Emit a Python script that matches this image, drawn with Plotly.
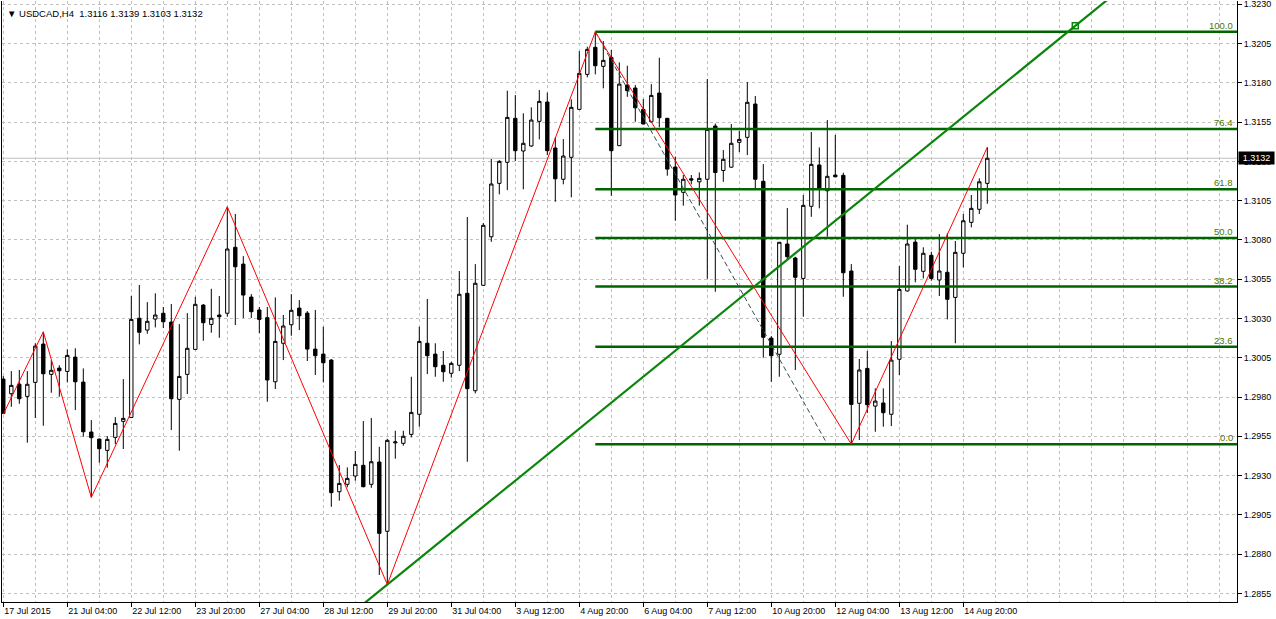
import plotly.graph_objects as go

# ---------------- data (USDCAD, H4) ----------------
bar_index = list(range(124))

opens = [1.29914, 1.29821, 1.29882, 1.29804, 1.29893, 1.30137, 1.29944, 1.29984, 1.29963, 1.30054,
         1.29895, 1.29577, 1.29532, 1.29460, 1.29543, 1.29645, 1.29670, 1.30301, 1.30226, 1.30296,
         1.30333, 1.30277, 1.29785, 1.29944, 1.30103, 1.30385, 1.30262, 1.30322, 1.30333, 1.30753,
         1.30646, 1.30436, 1.30354, 1.30305, 1.29897, 1.30142, 1.30260, 1.30366, 1.30334, 1.30105,
         1.30073, 1.30035, 1.29197, 1.29244, 1.29297, 1.29365, 1.29244, 1.29386, 1.28945, 1.29508,
         1.29505, 1.29562, 1.29690, 1.30142, 1.30073, 1.30002, 1.29951, 1.30002, 1.30460, 1.29840,
         1.30511, 1.30820, 1.31160, 1.31294, 1.31574, 1.31366, 1.31398, 1.31555, 1.31678, 1.31385,
         1.31186, 1.31326, 1.31631, 1.31854, 1.32026, 1.31905, 1.31962, 1.31400, 1.31786, 1.31767,
         1.31631, 1.31552, 1.31735, 1.31574, 1.31264, 1.31103, 1.31189, 1.31170, 1.31186, 1.31525,
         1.31242, 1.31263, 1.31421, 1.31453, 1.31665, 1.31173, 1.30175, 1.30072, 1.30774, 1.30685,
         1.30555, 1.31014, 1.31277, 1.31113, 1.31213, 1.31211, 1.30602, 1.29760, 1.29982, 1.29742,
         1.29762, 1.29690, 1.30040, 1.30475, 1.30786, 1.30600, 1.30702, 1.30545, 1.30594, 1.30434,
         1.30715, 1.30912, 1.30995, 1.31160]

highs = [1.29933, 1.29965, 1.29972, 1.29965, 1.30142, 1.30215, 1.30035, 1.30002, 1.30103, 1.30110,
         1.29982, 1.29653, 1.29535, 1.29551, 1.29672, 1.29914, 1.30443, 1.30513, 1.30404, 1.30460,
         1.30373, 1.30392, 1.30264, 1.30334, 1.30438, 1.30392, 1.30489, 1.30443, 1.31011, 1.30965,
         1.30697, 1.30455, 1.30373, 1.30373, 1.30434, 1.30322, 1.30455, 1.30417, 1.30347, 1.30354,
         1.30247, 1.30042, 1.29367, 1.29352, 1.29456, 1.29647, 1.29666, 1.29483, 1.29534, 1.29585,
         1.29585, 1.29929, 1.30247, 1.30424, 1.30142, 1.30093, 1.30024, 1.30602, 1.30946, 1.30646,
         1.30907, 1.31315, 1.31308, 1.31750, 1.31722, 1.31606, 1.31644, 1.31754, 1.31737, 1.31453,
         1.31442, 1.31695, 1.32002, 1.32030, 1.32125, 1.32066, 1.32009, 1.31930, 1.31909, 1.31786,
         1.31697, 1.31792, 1.31960, 1.31577, 1.31330, 1.31213, 1.31213, 1.31230, 1.31824, 1.31541,
         1.31372, 1.31538, 1.31495, 1.31805, 1.31716, 1.31283, 1.30188, 1.30787, 1.31003, 1.30693,
         1.31086, 1.31487, 1.31389, 1.31563, 1.31468, 1.31228, 1.30646, 1.30042, 1.30093, 1.29855,
         1.29855, 1.30156, 1.30634, 1.30897, 1.30804, 1.30753, 1.30725, 1.30837, 1.30842, 1.30793,
         1.30965, 1.31086, 1.31192, 1.31390]

lows = [1.29691, 1.29738, 1.29757, 1.29509, 1.29666, 1.29617, 1.29827, 1.29802, 1.29893, 1.29717,
        1.29547, 1.29161, 1.29381, 1.29350, 1.29500, 1.29469, 1.29666, 1.30135, 1.30203, 1.30243,
        1.30239, 1.29590, 1.29458, 1.29819, 1.30099, 1.30158, 1.30209, 1.30177, 1.30311, 1.30258,
        1.30303, 1.30303, 1.30207, 1.29770, 1.29851, 1.30035, 1.30190, 1.30226, 1.30029, 1.29940,
        1.29893, 1.29101, 1.29140, 1.29225, 1.29267, 1.29225, 1.29222, 1.28667, 1.28606, 1.29407,
        1.29490, 1.29543, 1.29611, 1.29946, 1.29929, 1.29897, 1.29923, 1.29965, 1.29388, 1.29823,
        1.30508, 1.30788, 1.31090, 1.31117, 1.31302, 1.31122, 1.31393, 1.31440, 1.31340, 1.31043,
        1.31154, 1.31071, 1.31627, 1.31835, 1.31854, 1.31765, 1.31081, 1.31398, 1.31711, 1.31552,
        1.31536, 1.31550, 1.31517, 1.31209, 1.30922, 1.31018, 1.31154, 1.31018, 1.30553, 1.30470,
        1.31170, 1.31260, 1.31359, 1.31340, 1.31128, 1.30050, 1.29897, 1.29929, 1.30678, 1.29972,
        1.30311, 1.30947, 1.31001, 1.30820, 1.31200, 1.30438, 1.29500, 1.29526, 1.29698, 1.29579,
        1.29611, 1.29615, 1.29940, 1.30472, 1.30530, 1.30555, 1.30540, 1.30443, 1.30294, 1.30142,
        1.30625, 1.30880, 1.30965, 1.31030]

closes = [1.29696, 1.29874, 1.29789, 1.29881, 1.30124, 1.29948, 1.29970, 1.29967, 1.30065, 1.29897,
          1.29579, 1.29541, 1.29471, 1.29530, 1.29632, 1.29664, 1.30294, 1.30212, 1.30282, 1.30322,
          1.30279, 1.29789, 1.29931, 1.30110, 1.30390, 1.30273, 1.30301, 1.30311, 1.30742, 1.30629,
          1.30449, 1.30343, 1.30294, 1.29908, 1.30154, 1.30252, 1.30352, 1.30317, 1.30105, 1.30063,
          1.30018, 1.29191, 1.29250, 1.29282, 1.29371, 1.29229, 1.29388, 1.28932, 1.29524, 1.29514,
          1.29550, 1.29702, 1.30154, 1.30063, 1.29993, 1.29961, 1.30014, 1.30454, 1.29853, 1.30524,
          1.30893, 1.31156, 1.31300, 1.31580, 1.31368, 1.31415, 1.31563, 1.31682, 1.31368, 1.31189,
          1.31334, 1.31644, 1.31860, 1.32013, 1.31909, 1.31943, 1.31368, 1.31792, 1.31750, 1.31641,
          1.31538, 1.31720, 1.31578, 1.31251, 1.31086, 1.31186, 1.31181, 1.31192, 1.31504, 1.31229,
          1.31313, 1.31415, 1.31440, 1.31676, 1.31186, 1.30180, 1.30063, 1.30785, 1.30693, 1.30562,
          1.31020, 1.31281, 1.31128, 1.31205, 1.31202, 1.30591, 1.29753, 1.29972, 1.29751, 1.29774,
          1.29700, 1.30035, 1.30485, 1.30774, 1.30613, 1.30715, 1.30555, 1.30602, 1.30422, 1.30721,
          1.30922, 1.31001, 1.31170, 1.31320]

tick_index = [0, 8, 16, 24, 32, 40, 48, 56, 64, 72, 80, 88, 96, 104, 112, 120]
tick_text = ["17 Jul 2015", "21 Jul 04:00", "22 Jul 12:00", "23 Jul 20:00", "27 Jul 04:00",
             "28 Jul 12:00", "29 Jul 20:00", "31 Jul 04:00", "3 Aug 12:00", "4 Aug 20:00",
             "6 Aug 04:00", "7 Aug 12:00", "10 Aug 20:00", "12 Aug 04:00", "13 Aug 12:00",
             "14 Aug 20:00"]

# ZigZag vertices
zigzag_index = [0, 5, 11, 28, 48, 74, 106, 123]
zigzag_price = [1.29691, 1.30215, 1.29161, 1.31011, 1.28606, 1.32125, 1.29500, 1.31390]

# Fibonacci retracement
fib_index = [74, 103]
fib_price = [1.32125, 1.29500]
fib_levels = [0.0, 23.6, 38.2, 50.0, 61.8, 76.4, 100.0]

# Trend line anchors
trend_index = [48, 134]
trend_price = [1.28606, 1.32163]

last_price = 1.3132
y_range = [1.28495, 1.32321]
x_range = [-0.1625, 154.21]

# ---------------- figure ----------------
GRID = "#c0c0c0"
FONT = "Liberation Sans"

fig = go.Figure()

fig.add_trace(go.Candlestick(
    x=bar_index, open=opens, high=highs, low=lows, close=closes,
    increasing=dict(line=dict(color="black", width=1), fillcolor="white"),
    decreasing=dict(line=dict(color="black", width=1), fillcolor="black"),
    whiskerwidth=0, hoverinfo="skip", showlegend=False))

# Fibonacci levels (rays to the right)
fib_hi, fib_lo = fib_price[0], fib_price[1]
for lvl in fib_levels:
    p = fib_lo + (fib_hi - fib_lo) * lvl / 100.0
    fig.add_trace(go.Scatter(x=[fib_index[0], x_range[1] + 5], y=[p, p], mode="lines",
                             line=dict(color="#006400", width=2.5), hoverinfo="skip",
                             showlegend=False))
    fig.add_annotation(xref="paper", yref="y", x=1, y=p, xanchor="right", yanchor="bottom",
                       xshift=-2, yshift=-1, text=f"{lvl:.1f}", showarrow=False,
                       font=dict(family=FONT, size=9.5, color="#4f7400"))

# Fibonacci base (dashed)
fig.add_trace(go.Scatter(x=fib_index, y=fib_price, mode="lines",
                         line=dict(color="#2f4f4f", width=1, dash="5px,3px"),
                         hoverinfo="skip", showlegend=False))

# Trend line (extended both ways, clipped by axes)
slope = (trend_price[1] - trend_price[0]) / (trend_index[1] - trend_index[0])
tx0, tx1 = 40, 150
fig.add_trace(go.Scatter(x=[tx0, tx1],
                         y=[trend_price[0] + slope * (tx0 - trend_index[0]),
                            trend_price[0] + slope * (tx1 - trend_index[0])],
                         mode="lines", line=dict(color="#0b840b", width=2.2),
                         hoverinfo="skip", showlegend=False))
fig.add_trace(go.Scatter(x=[trend_index[1]], y=[trend_price[1]], mode="markers",
                         marker=dict(symbol="square-open", size=6, color="#0b840b",
                                     line=dict(width=1.5, color="#0b840b")),
                         hoverinfo="skip", showlegend=False))

# ZigZag
fig.add_trace(go.Scatter(x=zigzag_index, y=zigzag_price, mode="lines",
                         line=dict(color="red", width=1), hoverinfo="skip", showlegend=False))

# current price line
fig.add_shape(type="line", xref="paper", x0=0, x1=1, yref="y", y0=last_price, y1=last_price,
              line=dict(color=GRID, width=1), layer="below")

fig.add_annotation(xref="paper", yref="y", x=1, y=last_price, xanchor="left", yanchor="middle",
                   xshift=1, text=f"{last_price:.4f}", showarrow=False, bgcolor="black",
                   width=33, align="center", borderpad=1,
                   font=dict(family=FONT, size=9, color="white"))

# title
fig.add_annotation(xref="paper", yref="paper", x=0, y=1, xanchor="left", yanchor="top",
                   xshift=3, yshift=-5,
                   text="\u25bc USDCAD,H4\u00a0\u00a0" + " ".join(f"{v:.4f}" for v in
                        [opens[-1], highs[-1], lows[-1], closes[-1]]),
                   showarrow=False, font=dict(family=FONT, size=9.5, color="black"))

fig.update_layout(
    width=1276, height=619,
    margin=dict(l=2, r=39, t=1, b=17, autoexpand=False),
    paper_bgcolor="white", plot_bgcolor="white", showlegend=False,
    boxgap=0.4,
    font=dict(family=FONT, size=9, color="black"),
    xaxis=dict(range=x_range, tickmode="array", tickvals=tick_index, ticktext=tick_text,
               ticklabelposition="outside right", ticks="outside", ticklen=4,
               tickcolor="black", tickwidth=1, ticklabeloverflow="allow",
               showgrid=True, gridcolor=GRID, griddash="3px,3px", gridwidth=1,
               minor=dict(tickmode="linear", tick0=0, dtick=4, showgrid=True,
                          gridcolor=GRID, griddash="3px,3px", ticks=""),
               showline=True, linecolor="black", linewidth=1, zeroline=False,
               rangeslider=dict(visible=False), fixedrange=True),
    yaxis=dict(side="right", range=y_range, tick0=1.2855, dtick=0.0025, tickformat=".4f",
               ticks="outside", ticklen=4, tickcolor="black", ticklabeloverflow="allow",
               showline=True, mirror=True, linecolor="black", linewidth=1,
               showgrid=True, gridcolor=GRID, griddash="3px,3px", zeroline=False,
               fixedrange=True),
)

fig.write_html("out.html", config={"displayModeBar": False},
               post_script="document.body.style.margin='0';document.body.style.overflow='hidden';")
